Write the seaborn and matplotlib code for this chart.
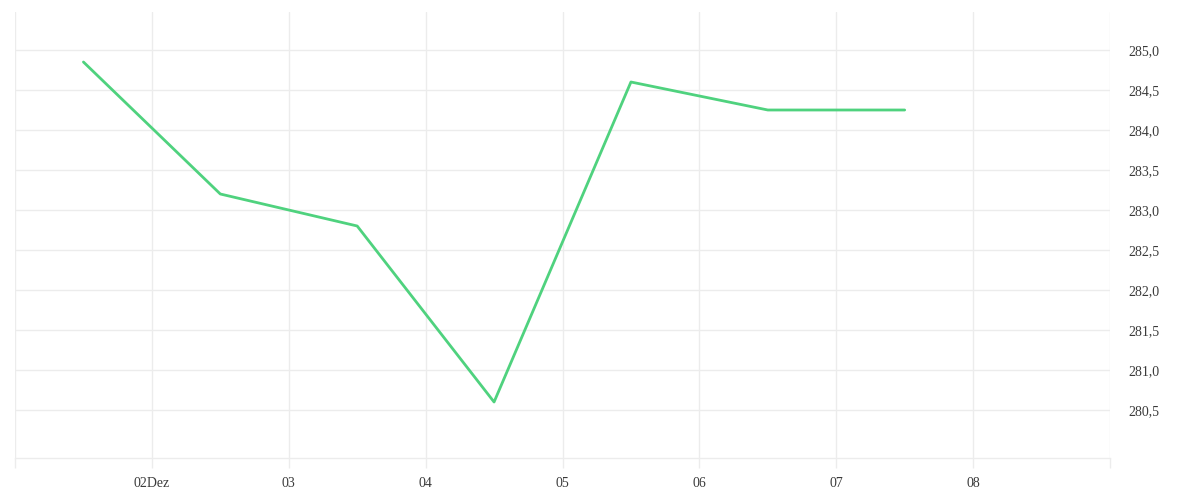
import matplotlib
matplotlib.use("Agg")
import matplotlib.pyplot as plt
import matplotlib.dates as mdates
import seaborn as sns
import pandas as pd

# Data
timestamps = ["2023-12-01 12:00", "2023-12-02 12:00", "2023-12-03 12:00", "2023-12-04 12:00",
              "2023-12-05 12:00", "2023-12-06 12:00", "2023-12-07 12:00"]
values = [284.85, 283.2, 282.8, 280.6, 284.6, 284.25, 284.25]
tick_days = ["2023-12-01", "2023-12-02", "2023-12-03", "2023-12-04", "2023-12-05",
             "2023-12-06", "2023-12-07", "2023-12-08", "2023-12-09"]
tick_labels = ["", "02Dez", "03", "04", "05", "06", "07", "08", ""]
y_ticks = [280.5, 281.0, 281.5, 282.0, 282.5, 283.0, 283.5, 284.0, 284.5, 285.0]

df = pd.DataFrame({"t": pd.to_datetime(timestamps), "v": values})

sns.set_theme(style="white")
plt.rcParams["font.family"] = ["Liberation Serif", "DejaVu Serif"]

fig = plt.figure(figsize=(12, 5), dpi=100)
ax = fig.add_axes([15/1200, 42/500, (1110-15)/1200, (458-12)/500])

sns.lineplot(data=df, x="t", y="v", ax=ax, color="#4fd27e", linewidth=2)

grid_c = "#ececec"
xt = pd.to_datetime(tick_days)
ax.set_xlim(xt[0], xt[-1])
ax.set_ylim(279.9, 285.475)
ax.set_xticks(xt)
ax.set_xticklabels(tick_labels)
ax.set_yticks(y_ticks)
ax.set_yticklabels([f"{v:.1f}".replace(".", ",") for v in y_ticks])

for s in ["top", "right", "left"]:
    ax.spines[s].set_visible(False)
ax.spines["bottom"].set_color(grid_c)
ax.spines["bottom"].set_linewidth(1)

ax.grid(True, axis="both", color=grid_c, linewidth=1)
ax.yaxis.tick_right()
ax.tick_params(axis="y", length=0, pad=13, labelsize=10, labelcolor="#3a3a3a")
ax.tick_params(axis="x", length=7.5, width=1, color=grid_c, pad=6, labelsize=10,
               labelcolor="#3a3a3a", bottom=True)
ax.set_xlabel("")
ax.set_ylabel("")
ax.patch.set_alpha(0)

fig.savefig("out.png", dpi=100, facecolor="white")
